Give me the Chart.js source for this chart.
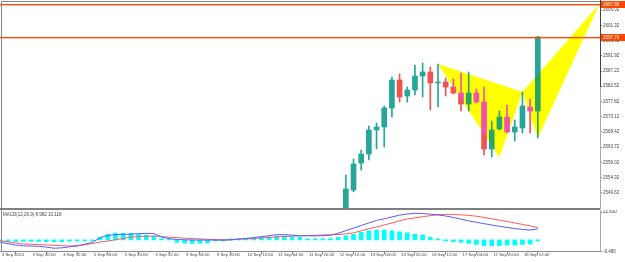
<!DOCTYPE html>
<html>
<head>
<meta charset="utf-8">
<title>XAUUSD H4 with MACD</title>
<script src="https://cdn.jsdelivr.net/npm/chart.js@4.4.1/dist/chart.umd.min.js"></script>
<style>
  html, body { margin: 0; padding: 0; background: #fff; }
  #wrap { position: relative; width: 625px; height: 262px; overflow: hidden; }
  #priceBox { position: absolute; left: 0; top: 0; width: 625px; height: 210px; }
  #macdBox { position: absolute; left: 0; top: 210px; width: 625px; height: 52px; }
</style>
</head>
<body>
<div id="wrap">
  <div id="priceBox"><canvas id="priceChart"></canvas></div>
  <div id="macdBox"><canvas id="macdChart"></canvas></div>
</div>
<script>
// bar categories (4 hour bars, 6 per trading day)
const days = ["3 Sep", "4 Sep", "5 Sep", "6 Sep", "9 Sep", "10 Sep", "11 Sep",
  "12 Sep", "13 Sep", "16 Sep", "17 Sep", "18 Sep"];
const hours = ["00:00", "04:00", "08:00", "12:00", "16:00", "20:00"];
const barTimes = days.flatMap(d => hours.map(h => d + " " + h));

// time axis labels
const tickTimes = ["3 Sep 04:00", "3 Sep 20:00", "4 Sep 12:00", "5 Sep 04:00", "5 Sep 20:00",
  "6 Sep 12:00", "9 Sep 04:00", "9 Sep 20:00", "10 Sep 12:00", "11 Sep 04:00", "11 Sep 20:00",
  "12 Sep 12:00", "13 Sep 04:00", "13 Sep 20:00", "16 Sep 12:00", "17 Sep 04:00",
  "17 Sep 20:00", "18 Sep 12:00"];
const tickLabels = ["3 Sep 2024", "3 Sep 20:00", "4 Sep 12:00", "5 Sep 04:00", "5 Sep 20:00",
  "6 Sep 12:00", "9 Sep 04:00", "9 Sep 20:00", "10 Sep 12:00", "11 Sep 04:00", "11 Sep 20:00",
  "12 Sep 12:00", "13 Sep 04:00", "13 Sep 20:00", "16 Sep 12:00", "17 Sep 04:00",
  "17 Sep 20:00", "18 Sep 12:00"];

// price axis labels
const priceTicks = [2606.02, 2601.32, 2596.62, 2591.92, 2587.22, 2582.52, 2577.82,
  2573.12, 2568.42, 2563.72, 2559.02, 2554.32, 2549.62];
const macdTicks = [22.83, -9.48];

// visible candles, first one at 12 Sep 16:00
const candleStart = "12 Sep 16:00";
const candleOpen = [2541.5, 2550.45, 2558.79, 2561.57, 2568.99, 2569.92, 2575.79, 2584.44,
  2579.5, 2581.35, 2585.67, 2586.91, 2583.51, 2583.82, 2582.28, 2580.42, 2577.02, 2580.42,
  2577.64, 2563.12, 2569.3, 2573.01, 2568.37, 2569.61, 2576.1, 2574.86];
const candleHigh = [2555.09, 2560.03, 2562.81, 2570.22, 2571.15, 2576.41, 2585.37, 2586.29,
  2582.28, 2589.07, 2589.69, 2588.46, 2589.38, 2585.06, 2584.75, 2586.6, 2586.91, 2581.66,
  2582.28, 2571.77, 2574.86, 2576.71, 2572.08, 2580.73, 2578.57, 2597.9];
const candleLow = [2538.2, 2549.9, 2556.63, 2559.72, 2563.12, 2563.74, 2573.01, 2577.64,
  2577.64, 2579.8, 2579.19, 2575.17, 2576.1, 2579.5, 2580.11, 2574.86, 2574.86, 2577.33,
  2561.26, 2560.65, 2568.99, 2568.06, 2565.59, 2568.06, 2568.06, 2566.52];
const candleClose = [2550.76, 2558.48, 2561.57, 2568.99, 2569.92, 2575.79, 2584.44, 2579.19,
  2581.35, 2585.67, 2586.91, 2583.51, 2583.82, 2582.28, 2580.42, 2577.02, 2580.42, 2577.64,
  2563.12, 2568.99, 2573.01, 2568.37, 2569.92, 2576.41, 2574.86, 2597.76];

// horizontal levels
const levelPrices = [2607.88, 2597.76];

// harmonic pattern points (bar number, price); the last one is 8 bars into the future
const patternBars = [58, 66, 69, 71, 79];
const patternPrices = [2589.38, 2560.6, 2580.73, 2566.52, 2607.88];
const patternTriangles = [[0, 1, 2], [2, 3, 4]];

// MACD(12,26,9), one value per bar from 3 Sep 00:00
const macdMain = [-1.2, -2.0, -3.0, -4.2, -4.8, -5.0, -5.2, -5.9, -6.8, -6.5, -5.6, -5.0,
  -3.5, -2.1, 2.0, 3.7, 4.3, 4.6, 4.7, 5.1, 5.4, 5.2, 2.4, 1.1, 0.3, 0.1, -0.1, -0.1, -0.1,
  -0.1, -0.1, 0.0, 0.6, 1.2, 1.9, 2.7, 3.5, 4.3, 4.3, 3.9, 3.4, 3.4, 3.3, 3.5, 3.9, 5.4, 7.6,
  9.7, 11.8, 13.9, 16.0, 17.3, 18.8, 20.3, 21.2, 21.8, 21.6, 21.1, 20.5, 19.6, 18.4, 17.0,
  15.6, 14.4, 13.3, 12.2, 11.2, 10.2, 9.3, 8.6, 8.1, 8.982];
const macdSignal = [-0.2, -0.65, -1.6, -2.5, -3.3, -3.5, -3.8, -4.1, -4.4, -4.7, -5.0, -4.7,
  -4.0, -2.9, -1.7, -0.9, 0.1, 1.2, 2.3, 2.8, 3.0, 3.2, 2.8, 2.2, 1.9, 1.4, 1.1, 0.8, 0.5,
  0.3, 0.0, 0.2, 0.7, 0.9, 1.2, 1.6, 2.1, 2.5, 2.8, 3.1, 3.4, 3.6, 3.8, 4.0, 4.2, 4.4, 5.0,
  5.8, 7.4, 9.1, 10.6, 12.3, 13.8, 15.7, 17.1, 18.0, 19.0, 19.9, 20.6, 20.9, 20.9, 20.5,
  20.1, 19.4, 18.4, 17.3, 16.2, 15.1, 13.9, 12.7, 11.5, 10.118];
const macdHist = [-1.0, -1.1, -1.2, -1.3, -1.3, -1.2, -1.2, -1.4, -1.5, -1.4, -1.1, -0.9,
  -0.6, -0.4, 2.1, 4.6, 5.4, 5.4, 5.4, 4.6, 4.0, 3.2, 1.0, 0.5, -2.0, -2.6, -2.8, -2.6, -2.2,
  -0.5, -0.3, 0.3, 0.5, 0.7, 1.3, 2.1, 2.6, 3.2, 3.2, 2.6, 2.1, 0.9, 0.6, 0.5, 1.0, 2.2, 3.4,
  4.6, 6.2, 7.5, 8.1, 8.1, 7.5, 6.7, 5.9, 4.6, 4.0, 2.1, 0.7, -0.1, -1.5, -2.0, -2.8, -3.6,
  -4.7, -4.7, -4.7, -4.2, -4.2, -3.6, -3.4, -0.7];

// view window
const X_MIN = 0.96, X_MAX = 79.1;
const PRICE_MIN = 2544.89, PRICE_MAX = 2608.85;
const MACD_MIN = -9.48, MACD_MAX = 24.5;

const UP = "#26a69a";
const DOWN = "#ef5350";
const LEVEL = "#ff4500";
const FRAME = "#888888";
const TEXT = "#444444";
const FONT = "Liberation Sans";

const firstCandle = barTimes.indexOf(candleStart);
const tickBars = tickTimes.map(t => barTimes.indexOf(t));
const candleColors = candleClose.map((c, k) => (c >= candleOpen[k] ? UP : DOWN));

function rightAxis(fit) {
  fit.width = 25;
  fit.paddingTop = 0;
  fit.paddingBottom = 0;
}

function whiteBackground(chart) {
  const c = chart.ctx;
  c.save();
  c.fillStyle = "#fff";
  c.fillRect(0, 0, chart.width, chart.height);
  c.restore();
}

const priceExtras = {
  id: "priceExtras",
  beforeDraw: whiteBackground,
  afterDatasetsDraw(chart) {
    // pattern triangles invert whatever is under them, like the terminal does
    const { ctx: c, chartArea: a, scales: { x, y } } = chart;
    c.save();
    c.beginPath();
    c.rect(a.left, a.top, a.right - a.left, a.bottom - a.top);
    c.clip();
    c.globalCompositeOperation = "difference";
    c.fillStyle = "#0000ff";
    patternTriangles.forEach(tri => {
      c.beginPath();
      tri.forEach((p, n) => {
        const px = x.getPixelForValue(patternBars[p]);
        const py = y.getPixelForValue(patternPrices[p]);
        if (n === 0) c.moveTo(px, py); else c.lineTo(px, py);
      });
      c.closePath();
      c.fill();
    });
    c.restore();
  },
  afterDraw(chart) {
    const { ctx: c, chartArea: a, scales: { y } } = chart;
    c.save();
    // level lines with price boxes
    levelPrices.forEach(p => {
      const py = Math.round(y.getPixelForValue(p)) + 0.5;
      c.lineWidth = 1;
      c.strokeStyle = LEVEL;
      c.beginPath(); c.moveTo(a.left, py); c.lineTo(a.right, py); c.stroke();
      c.strokeStyle = "rgba(255,69,0,0.35)";
      c.beginPath(); c.moveTo(a.left, py + 1); c.lineTo(a.right, py + 1); c.stroke();
      c.fillStyle = LEVEL;
      c.fillRect(a.right + 1, py - 3.5, 24, 7);
      c.fillStyle = "#fff";
      c.font = "4.5px " + FONT;
      c.textBaseline = "middle";
      c.textAlign = "left";
      c.fillText(p.toFixed(2), a.right + 3, py);
    });
    // frame
    c.strokeStyle = FRAME;
    c.lineWidth = 1;
    c.beginPath();
    c.moveTo(1.5, a.bottom); c.lineTo(1.5, 1.5); c.lineTo(a.right, 1.5);
    c.stroke();
    c.strokeStyle = "#444";
    c.beginPath(); c.moveTo(a.right + 0.5, 0); c.lineTo(a.right + 0.5, 87); c.stroke();
    // panel separator
    c.fillStyle = "#808080";
    c.fillRect(0, a.bottom, a.right, 2);
    c.restore();
  }
};

const macdExtras = {
  id: "macdExtras",
  beforeDraw: whiteBackground,
  afterDraw(chart) {
    const { ctx: c, chartArea: a } = chart;
    c.save();
    c.strokeStyle = FRAME;
    c.lineWidth = 1;
    c.beginPath(); c.moveTo(1.5, a.top); c.lineTo(1.5, a.bottom); c.stroke();
    c.fillStyle = TEXT;
    c.font = "4.5px " + FONT;
    c.textBaseline = "top";
    c.fillText("MACD(12,26,9) 8.982 10.118", 3, 3);
    c.restore();
  }
};

const axisTicks = { color: TEXT, padding: 1, autoSkip: false, font: { family: FONT, size: 4.5 } };

new Chart(document.getElementById("priceChart"), {
  type: "bar",
  data: {
    datasets: [
      {
        label: "wick",
        data: candleLow.map((lo, k) => ({ x: firstCandle + k, y: [lo, candleHigh[k]] })),
        backgroundColor: candleColors,
        barThickness: 1,
        grouped: false,
        order: 2
      },
      {
        label: "body",
        data: candleOpen.map((o, k) => ({ x: firstCandle + k, y: [o, candleClose[k]] })),
        backgroundColor: candleColors,
        barThickness: 5,
        minBarLength: 1,
        grouped: false,
        order: 1
      }
    ]
  },
  options: {
    responsive: true,
    maintainAspectRatio: false,
    animation: false,
    devicePixelRatio: 1,
    layout: { padding: { top: 1, bottom: 2, left: 0, right: 0 } },
    plugins: { legend: { display: false }, tooltip: { enabled: false } },
    scales: {
      x: { type: "linear", min: X_MIN, max: X_MAX, offset: false, display: false },
      y: {
        position: "right",
        min: PRICE_MIN,
        max: PRICE_MAX,
        afterFit: rightAxis,
        afterBuildTicks: s => { s.ticks = priceTicks.map(v => ({ value: v })); },
        ticks: Object.assign({}, axisTicks, { callback: v => v.toFixed(2) }),
        grid: { drawOnChartArea: false, tickLength: 2, color: FRAME },
        border: { color: "#aaa" }
      }
    }
  },
  plugins: [priceExtras]
});

new Chart(document.getElementById("macdChart"), {
  type: "bar",
  data: {
    datasets: [
      {
        type: "line",
        label: "MACD",
        data: macdMain.map((v, i) => ({ x: i, y: v })),
        borderColor: "#5a5aff",
        borderWidth: 1,
        pointRadius: 0,
        order: 1
      },
      {
        type: "line",
        label: "Signal",
        data: macdSignal.map((v, i) => ({ x: i, y: v })),
        borderColor: "#ff5a5a",
        borderWidth: 1,
        pointRadius: 0,
        order: 2
      },
      {
        label: "Histogram",
        data: macdHist.map((v, i) => ({ x: i, y: v })),
        backgroundColor: "#00ffff",
        barThickness: 4,
        minBarLength: 1,
        order: 3
      }
    ]
  },
  options: {
    responsive: true,
    maintainAspectRatio: false,
    animation: false,
    devicePixelRatio: 1,
    layout: { padding: 0 },
    plugins: { legend: { display: false }, tooltip: { enabled: false } },
    scales: {
      x: {
        type: "linear",
        min: X_MIN,
        max: X_MAX,
        offset: false,
        afterFit: s => { s.height = 10.5; s.paddingLeft = 0; s.paddingRight = 0; },
        afterBuildTicks: s => { s.ticks = tickBars.map(v => ({ value: v })); },
        ticks: Object.assign({}, axisTicks, {
          maxRotation: 0,
          align: "start",
          labelOffset: 1.5,
          padding: -2,
          font: { family: FONT, size: 4.3 },
          callback: (v, i) => tickLabels[i]
        }),
        grid: { drawOnChartArea: false, tickLength: 3, color: FRAME },
        border: { color: FRAME }
      },
      y: {
        position: "right",
        min: MACD_MIN,
        max: MACD_MAX,
        afterFit: rightAxis,
        afterBuildTicks: s => { s.ticks = macdTicks.map(v => ({ value: v })); },
        ticks: Object.assign({}, axisTicks, { callback: v => v.toFixed(3) }),
        grid: { drawOnChartArea: false, tickLength: 2, color: FRAME },
        border: { color: "#aaa" }
      }
    }
  },
  plugins: [macdExtras]
});
</script>
</body>
</html>
